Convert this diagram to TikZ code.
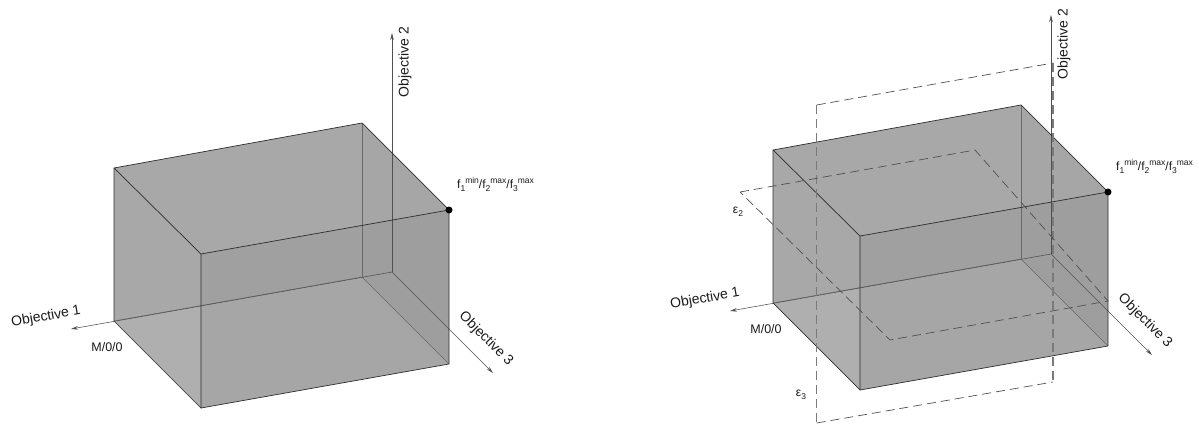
\documentclass[tikz,border=0pt]{standalone}
\usepackage{fontspec}
\setmainfont{Liberation Sans}
\usetikzlibrary{arrows.meta}
\definecolor{edgedark}{HTML}{2E2E2E}
\definecolor{edgehidden}{HTML}{6A6A6A}
\definecolor{axisgray}{HTML}{505050}
\definecolor{txt}{HTML}{1A1A1A}
\definecolor{planegray}{HTML}{505050}
\definecolor{planelight}{HTML}{7A7A7A}
\newcommand\lblsub[1]{\raisebox{-3pt}{\fontsize{8.5}{9}\selectfont #1}}
\newcommand\lblsup[1]{\raisebox{4.6pt}{\fontsize{8.5}{9}\selectfont #1}}
\tikzset{
  face/.style={fill=black, draw=none},
  vedge/.style={draw=edgedark, line width=0.7pt, line join=round, line cap=round},
  hedge/.style={draw=edgehidden, line width=0.45pt},
  axisline/.style={draw=axisgray, line width=0.55pt, -{Stealth[length=7pt,width=3.6pt]}},
  axlabel/.style={font=\fontsize{14}{16}\selectfont, text=txt, inner sep=0pt},
  smalllabel/.style={font=\fontsize{12.5}{14}\selectfont, text=txt, inner sep=0pt},
  flabel/.style={font=\fontsize{12}{14}\selectfont, text=txt, inner sep=0pt},
  cornerdot/.style={circle, fill=black, draw=none, inner sep=0pt, minimum size=7pt},
  planeline/.style={draw=planegray, line width=0.7pt, dash pattern=on 9pt off 5pt},
  planevert/.style={draw=planelight, line width=1.1pt, dash pattern=on 9pt off 5pt},
  pics/cubeaxes/.style={code={
    \coordinate (A)  at (114,168);
    \coordinate (Bt) at (362,123);
    \coordinate (C)  at (449,210);
    \coordinate (D)  at (201,254);
    \coordinate (M)  at (114,321);
    \coordinate (Bb) at (362,277);
    \coordinate (Cb) at (449,364);
    \coordinate (Db) at (201,408);
    \coordinate (O)  at (392,272);
    \coordinate (X1) at (71,329);
    \coordinate (X2) at (392,33);
    \coordinate (X3) at (493,373);
    % faces
    \fill[face, fill opacity=0.20]  (A) -- (Bt) -- (Bb) -- (M) -- cycle;   % back
    \fill[face, fill opacity=0.17]  (M) -- (Bb) -- (Cb) -- (Db) -- cycle; % bottom
    \fill[face, fill opacity=0.21]  (Bt) -- (C) -- (Cb) -- (Bb) -- cycle; % right
    \fill[face, fill opacity=0.176] (A) -- (D) -- (Db) -- (M) -- cycle;   % left
    \fill[face, fill opacity=0.176] (A) -- (Bt) -- (C) -- (D) -- cycle;   % top
    \fill[face, fill opacity=0.216] (D) -- (C) -- (Cb) -- (Db) -- cycle;  % front
    % hidden edges
    \draw[hedge] (Bt) -- (Bb);
    \draw[hedge] (Bb) -- (Cb);
    \draw[hedge] (M) -- (Bb);
    % axes
    \draw[axisline] (O) -- (X1);
    \draw[axisline] (O) -- (X2);
    \draw[axisline] (O) -- (X3);
    % visible edges
    \draw[vedge] (A) -- (Bt) -- (C) -- (D) -- cycle;
    \draw[vedge] (D) -- (Db) -- (Cb) -- (C);
    \draw[vedge] (A) -- (M) -- (Db);
    \node[cornerdot] (dot) at (C) {};
    % labels
    \node[axlabel, rotate=10]  (t1) at (46,317) {Objective 1};
    \node[axlabel, rotate=90]  (t2) at (405,62) {Objective 2};
    \node[axlabel, rotate=-45] (t3) at (486,339) {Objective 3};
    \node[smalllabel] (m) at (107,347) {M/0/0};
    \node[flabel, anchor=base west] (f) at (457,188)
      {f\lblsub{1}\lblsup{min}/f\lblsub{2}\lblsup{max}/f\lblsub{3}\lblsup{max}};
  }}
}
\begin{document}
\begin{tikzpicture}[x=1pt, y=-1pt]
  \useasboundingbox (0,0) rectangle (1199,425);
  \pic (L) at (0,0) {cubeaxes};
  \pic (R) at (659,-18) {cubeaxes};
  % epsilon-3 plane (vertical)
  \coordinate (p3a) at (816.7,105);
  \coordinate (p3b) at (1053,63);
  \coordinate (p3c) at (1053,382);
  \coordinate (p3d) at (816.7,423);
  \draw[planeline] (p3d) -- (p3c);
  \draw[planeline] (p3a) -- (p3b);
  \draw[planevert] (p3b) -- (p3c);
  \draw[planevert] (p3a) -- (p3d);
  % epsilon-2 plane (horizontal)
  \coordinate (p2a) at (740,192);
  \coordinate (p2b) at (975,150);
  \coordinate (p2c) at (1108,301);
  \coordinate (p2d) at (890,340);
  \draw[planeline] (p2a) -- (p2b) -- (p2c) -- (p2d) -- cycle;
  \node[flabel] (e2) at (738,212) {ε\lblsub{2}};
  \node[flabel] (e3) at (801,395) {ε\lblsub{3}};
\end{tikzpicture}
\end{document}
